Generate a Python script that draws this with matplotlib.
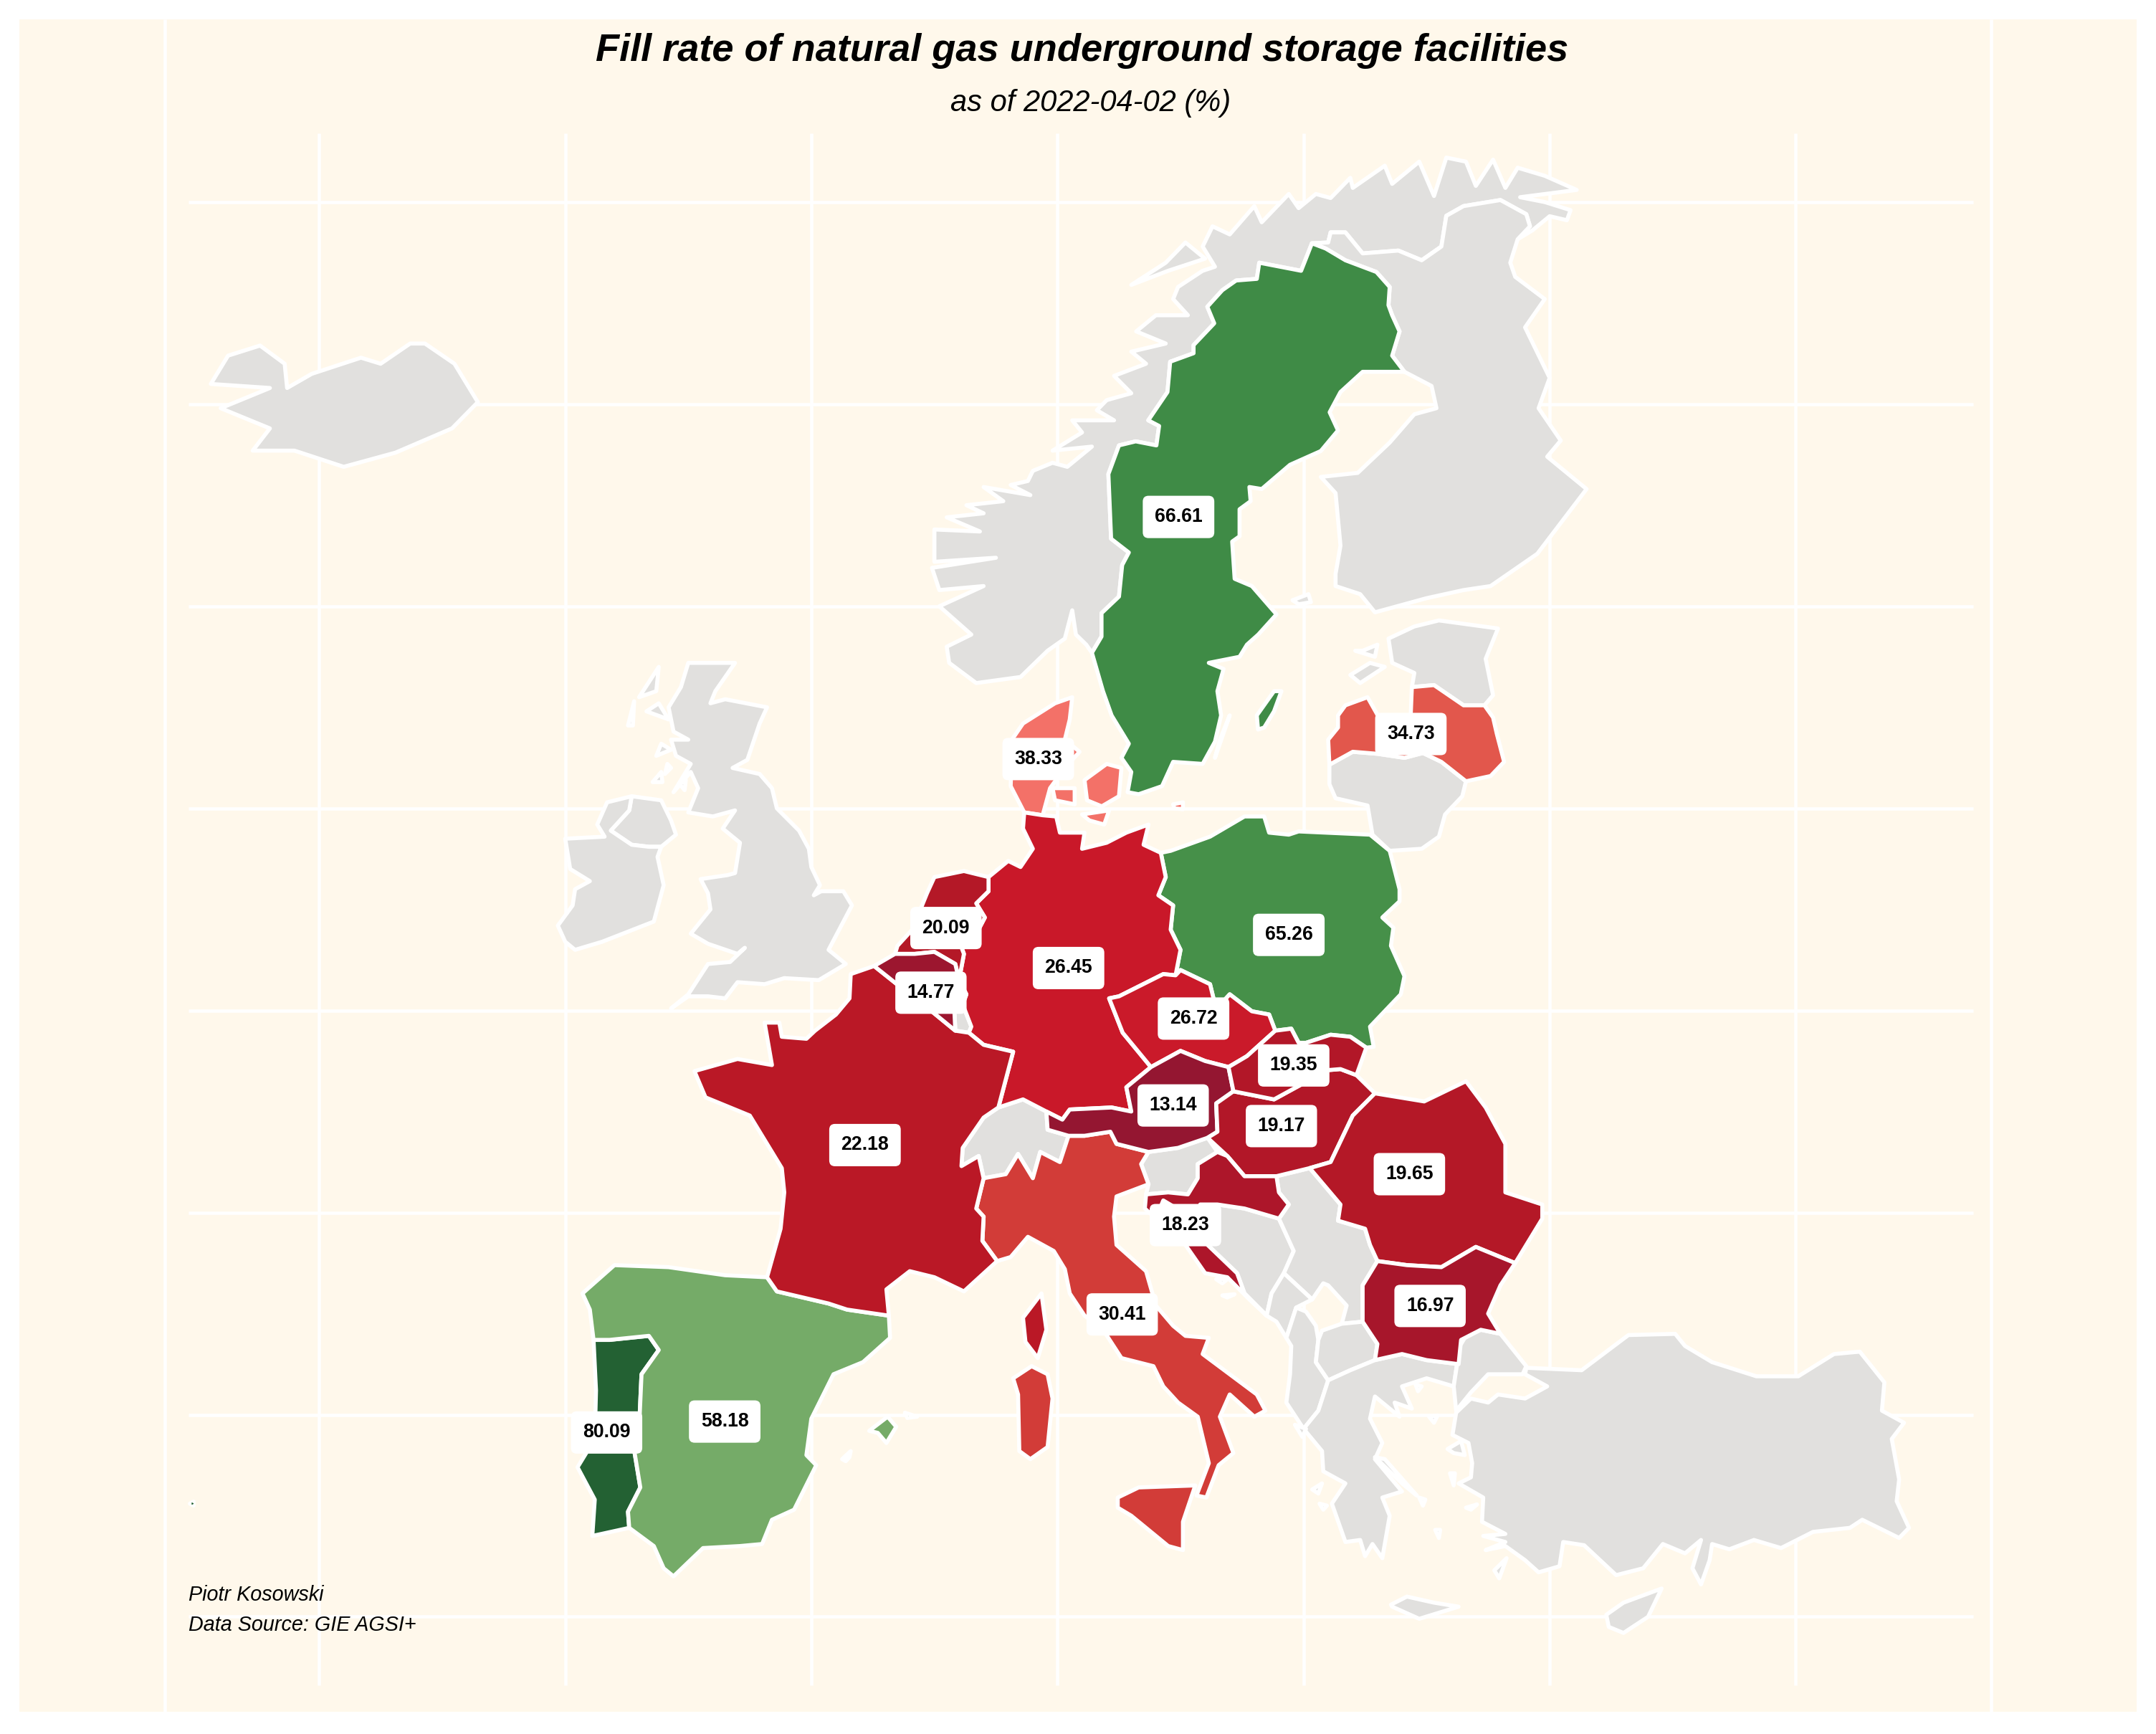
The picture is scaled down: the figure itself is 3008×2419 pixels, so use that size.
import matplotlib
matplotlib.use("Agg")
import matplotlib.pyplot as plt
from matplotlib.colors import LinearSegmentedColormap, Normalize

# ---- fill rate (%) and label anchor (lon, lat) ----
countries_with_data = ["Portugal", "Spain", "Sweden", "Poland", "Latvia", "Denmark", "Italy", "Germany",
                       "Czechia", "France", "Netherlands", "Belgium", "Austria", "Hungary", "Slovakia",
                       "Romania", "Croatia", "Bulgaria"]
fill_rate = [80.09, 58.18, 66.61, 65.26, 34.73, 38.33, 30.41, 26.45, 26.72, 22.18, 20.09, 14.77, 13.14,
             19.17, 19.35, 19.65, 18.23, 16.97]
label_lon = [-8.32, -3.52, 14.92, 19.40, 24.36, 9.22, 12.63, 10.45, 15.53, 2.18, 5.47, 4.86, 14.70,
             19.10, 19.60, 24.30, 15.20, 25.14]
label_lat = [39.56, 39.83, 62.21, 51.87, 56.84, 56.22, 42.48, 51.05, 49.80, 46.67, 52.04, 50.44, 47.65,
             47.14, 48.64, 45.95, 44.69, 42.69]
scale_values = [13.1, 14.8, 17.0, 19.2, 20.1, 22.2, 26.5, 30.4, 34.7, 38.3, 58.2, 65.3, 66.6, 80.1]
scale_colors = ["#941631", "#9D162F", "#A8162B", "#B21728", "#B51827", "#BA1826", "#C91829", "#D23C38", "#E2574C",
                "#F37168", "#76AB68", "#479049", "#3F8B46", "#236133"]

grid_lon = [-20, -10, 0, 10, 20, 30, 40]
grid_lat = [35, 40, 45, 50, 55, 60, 65, 70]

# ---- outlines, lon/lat ----
border_se_no = [(11.17,59.05),(11.4,58.85),(11.79,59.25),(11.79,59.83),(12.5,60.24),(12.63,61.02),(12.9,61.33),(12.18,61.67),(12.07,63.27),(12.5,63.98),(13.18,64.08),(14.02,63.98),
                (14.13,64.46),(13.69,64.6),(14.47,65.3),(14.58,66.05),(15.53,66.26),(15.53,66.46),(16.37,67.0),(16.09,67.41),(16.7,67.82),(17.26,68.06),(18.1,68.1),(18.2,68.5),(19.9,68.3),(20.34,68.98)]
border_se_fi = [(20.34,68.98),(20.9,68.85),(21.7,68.56),(22.96,68.27),(23.5,67.9),(23.45,67.45),(23.6,67.2),(23.9,66.8),(23.6,66.2),(24.1,65.8)]
border_no_fi = [(20.34,68.98),(21.0,69.0),(21.1,69.25),(21.7,69.25),(22.4,68.73),(23.85,68.8),(24.8,68.56),(25.6,68.9),(25.8,69.66),(26.5,69.9),(28.0,70.05),(29.05,69.7),(29.2,69.4),(28.7,69.08)]
Sweden = [border_se_fi + [(22.4,65.8),(21.5,65.3),(21.06,64.8),(21.4,64.35),(20.7,63.84),(19.45,63.5),(18.3,62.9),(17.8,62.95),(17.85,62.6),(17.4,62.4),(17.4,61.73),(17.1,61.6),(17.2,60.68),(17.9,60.5),(18.9,59.8),(18.16,59.3),(17.7,59.05),(17.4,58.75),(16.15,58.6),(16.75,58.45),(16.5,57.9),(16.65,57.3),(16.4,56.65),(15.9,56.1),(14.7,56.15),(14.25,55.55),(13.3,55.35),(12.85,55.4),(13.0,55.9),(12.6,56.25),(12.9,56.6),(12.2,57.3),(11.85,57.9)] + border_se_no[:-1][::1][1:2] + border_se_no[2:-1][::1] + [(20.34,68.98)],
          [(18.1,57.3),(18.8,57.9),(19.1,57.9),(18.8,57.4),(18.4,57.0),(18.15,56.95)],
          [(16.4,56.25),(17.0,57.3),(16.6,56.7)]]
Norway = [border_se_no + border_no_fi[1:] + [(29.3,69.3),(30.0,69.65),(30.7,69.55),(30.85,69.8),(29.8,70.0),(28.8,70.12),(31.1,70.3),(29.8,70.65),(28.7,70.85),(28.2,70.35),(27.7,71.05),(27.0,70.4),(26.6,71.0),(25.8,71.1),(25.3,70.15),(24.7,71.0),(23.6,70.45),(23.3,70.9),(22.0,70.35),(21.9,70.6),(21.1,70.1),(20.5,70.2),(19.8,69.85),(19.4,70.2),(18.3,69.5),(18.0,69.9),(17.0,69.2),(16.3,69.4),(15.9,68.9),(16.4,68.4),(15.9,68.3),(14.9,67.9),(14.7,67.6),(15.3,67.2),(14.0,67.2),(13.2,66.8),(14.4,66.5),(13.0,66.3),(13.6,66.0),(12.3,65.7),(13.0,65.27),(12.0,65.1),(11.6,64.85),(12.3,64.6),(10.6,64.6),(11.0,64.3),(9.8,63.85),(11.4,63.95),(10.4,63.45),(9.8,63.55),(9.0,63.35),(8.8,63.1),(8.1,63.0),(8.9,62.75),(7.0,62.95),(7.8,62.6),(6.3,62.5),(7.0,62.3),(5.5,62.2),(6.85,61.85),(5.0,61.9),(5.0,61.1),(7.5,61.2),(4.9,60.95),(5.2,60.4),(7.0,60.5),(5.2,60.0),(6.5,59.3),(5.5,59.0),(5.6,58.6),(6.7,58.1),(8.5,58.25),(9.6,58.9),(10.3,59.2),(10.6,59.9),(10.75,59.3)],
          [(13.0,67.95),(14.5,68.3),(16.0,68.6),(15.2,69.0),(14.4,68.5)]]
Finland = [border_no_fi[::1] + [(28.4,68.5),(28.6,68.15),(29.8,67.6),(29.0,66.9),(30.0,65.65),(29.55,64.9),(30.45,64.1),(29.9,63.7),(31.5,62.9),(29.5,61.3),(27.6,60.5),(26.5,60.4),(25.0,60.2),(23.5,59.95),(22.9,59.85),(22.3,60.3),(21.3,60.5),(21.3,60.8),(21.5,61.5),(21.3,62.8),(20.7,63.2),(22.2,63.3),(23.5,64.05),(24.5,64.75),(25.4,64.9),(25.2,65.45),(24.1,65.8),(23.6,66.2),(23.9,66.8),(23.6,67.2),(23.45,67.45),(23.5,67.9),(22.96,68.27),(21.7,68.56),(20.9,68.85)]]
Estonia = [[(23.45,59.2),(24.5,59.5),(25.5,59.65),(27.9,59.45),(27.4,58.7),(27.7,57.8),(27.35,57.55),(26.5,57.55),(25.3,58.05),(24.4,58.0),(24.5,58.35),(23.6,58.6)],
           [(21.9,58.3),(22.7,58.6),(23.3,58.5),(22.3,58.1)],[(22.4,58.9),(23.0,59.05),(22.9,58.75),(22.1,58.9)]]
Latvia = [[(21.05,56.08),(21.0,56.7),(21.4,57.0),(21.4,57.3),(21.7,57.55),(22.6,57.75),(23.2,57.1),(23.9,57.0),(24.35,57.25),(24.4,58.0),(25.3,58.05),(26.5,57.55),(27.35,57.55),
           (27.7,57.25),(27.85,56.85),(28.15,56.15),(27.6,55.8),(26.6,55.67),(25.6,56.15),(24.85,56.37),(24.1,56.25),(23.0,56.35),(22.0,56.4)]]
Lithuania = [[(21.05,56.08),(22.0,56.4),(23.0,56.35),(24.1,56.25),(24.85,56.37),(25.6,56.15),(26.6,55.67),(26.45,55.3),(25.75,54.85),(25.5,54.3),(24.8,54.0),(23.5,53.95),(22.8,54.35),
              (22.6,55.07),(21.3,55.25),(21.05,55.6)]]
Poland = [[(14.2,53.9),(14.6,53.95),(16.2,54.3),(17.6,54.8),(18.4,54.8),(18.6,54.4),(19.4,54.35),(19.8,54.43),(22.7,54.35),(23.5,53.95),(23.9,53.0),(23.9,52.7),(23.2,52.3),(23.65,52.05),
           (23.55,51.6),(24.1,50.85),(23.95,50.4),(22.7,49.6),(22.85,49.1),(22.55,49.08),(21.9,49.35),(21.1,49.4),(20.1,49.2),(19.8,49.2),(19.5,49.55),(18.85,49.5),(18.6,49.9),(17.9,49.98),
           (17.0,50.4),(16.7,50.2),(16.4,50.15),(16.2,50.65),(15.0,51.0),(14.8,50.87),(15.0,51.5),(14.6,52.0),(14.7,52.6),(14.1,52.85),(14.4,53.3)]]
Germany = [[(14.2,53.9),(13.5,54.1),(13.7,54.6),(12.8,54.4),(12.0,54.15),(11.0,54.0),(11.1,54.4),(10.1,54.4),(9.95,54.8),(9.4,54.83),(8.65,54.9),(8.6,54.5),(9.0,54.0),(8.5,53.55),(8.0,53.7),
            (7.2,53.3),(7.2,52.95),(6.7,52.65),(7.05,52.3),(6.75,51.95),(5.95,51.8),(6.2,51.4),(6.0,50.75),(6.3,50.4),(6.15,50.15),(6.5,49.6),(6.4,49.45),(7.0,49.15),(8.2,48.98),(7.6,47.6),(8.6,47.8),
            (9.55,47.5),(10.2,47.3),(10.5,47.55),(12.2,47.6),(13.0,47.5),(12.8,48.1),(13.8,48.6),(12.65,49.45),(12.1,50.3),(12.5,50.35),(14.3,50.9),(14.8,50.87),(15.0,51.5),(14.6,52.0),(14.7,52.6),(14.1,52.85),(14.4,53.3)]]
Czechia = [[(12.1,50.3),(12.5,50.35),(14.3,50.9),(14.8,50.87),(15.0,51.0),(16.2,50.65),(16.4,50.15),(16.7,50.2),(17.0,50.4),(17.9,49.98),(18.6,49.9),(18.85,49.5),(17.7,48.87),(16.95,48.6),(16.0,48.75),(15.0,49.0),(13.8,48.6),(12.65,49.45)]]
Slovakia = [[(16.95,48.6),(17.15,48.0),(18.8,47.8),(20.0,48.2),(20.5,48.5),(21.5,48.55),(22.15,48.4),(22.55,49.08),(21.9,49.35),(21.1,49.4),(20.1,49.2),(19.8,49.2),(19.5,49.55),(18.85,49.5),(17.7,48.87)]]
Austria = [[(9.55,47.5),(10.2,47.3),(10.5,47.55),(12.2,47.6),(13.0,47.5),(12.8,48.1),(13.8,48.6),(15.0,49.0),(16.0,48.75),(16.95,48.6),(17.15,48.0),(16.45,47.7),(16.5,47.0),(16.1,46.85),(14.9,46.6),(13.7,46.5),(12.4,46.7),(12.15,47.0),(11.1,46.9),(10.45,46.9),(9.6,47.05)]]
Hungary = [[(16.1,46.85),(16.5,47.0),(16.45,47.7),(17.15,48.0),(18.8,47.8),(20.0,48.2),(20.5,48.5),(21.5,48.55),(22.15,48.4),(22.9,47.95),(22.0,47.4),(21.1,46.25),(20.25,46.1),(18.9,45.9),(17.6,45.9),(16.9,46.4)]]
Slovenia = [[(13.7,46.5),(14.9,46.6),(16.1,46.85),(16.5,46.5),(15.7,46.2),(15.7,45.85),(15.3,45.45),(14.5,45.5),(13.6,45.45),(13.7,45.7),(13.4,46.2)]]
Croatia = [[(16.5,46.5),(16.9,46.4),(17.6,45.9),(18.9,45.9),(19.0,45.5),(19.4,45.2),(19.0,44.85),(17.6,45.1),(16.5,45.2),(15.8,45.2),(15.8,44.7),(16.1,44.2),(17.3,43.5),(17.6,43.0),(18.5,42.45),(17.8,42.85),(16.9,43.4),(16.0,43.5),(15.2,44.2),(14.9,44.6),(14.85,45.1),(14.3,45.3),(14.0,44.85),(13.55,45.1),(13.6,45.45),(14.5,45.5),(15.3,45.45),(15.7,45.85),(15.7,46.2)]]
Bosnia = [[(15.8,45.2),(16.5,45.2),(17.6,45.1),(19.0,44.85),(19.6,44.05),(19.2,43.5),(18.7,43.0),(18.5,42.45),(17.6,43.0),(17.3,43.5),(16.1,44.2),(15.8,44.7)]]
Serbia = [[(19.0,45.5),(18.9,45.9),(20.25,46.1),(21.5,45.2),(21.4,44.8),(22.5,44.6),(22.7,44.2),(23.0,43.8),(22.4,43.2),(22.4,42.3),(21.55,42.25),(21.75,42.7),(21.0,43.2),(20.8,43.25),(20.35,42.85),(19.2,43.5),(19.6,44.05),(19.0,44.85),(19.4,45.2)]]
Montenegro = [[(18.5,42.45),(18.7,43.0),(19.2,43.5),(20.35,42.85),(19.7,42.65),(19.3,41.9),(18.9,42.3)]]
Albania = [[(19.3,41.9),(19.7,42.65),(20.1,42.55),(20.5,42.2),(20.6,41.85),(20.5,41.3),(21.0,40.85),(20.6,40.1),(20.0,39.65),(19.3,40.3),(19.45,41.0),(19.5,41.7)]]
Macedonia = [[(20.6,41.85),(20.75,42.08),(21.55,42.25),(22.4,42.3),(23.0,41.75),(22.9,41.35),(21.9,41.1),(21.0,40.85),(20.5,41.3)]]
Bulgaria = [[(22.4,42.3),(22.4,43.2),(23.0,43.8),(24.2,43.7),(25.6,43.65),(27.0,44.15),(28.6,43.75),(28.0,43.2),(27.5,42.5),(28.0,42.0),(27.2,42.1),(26.4,41.85),(26.3,41.25),(25.0,41.35),(24.0,41.5),(22.9,41.35),(23.0,41.75)]]
Romania = [[(20.25,46.1),(21.1,46.25),(22.0,47.4),(22.9,47.95),(24.9,47.75),(26.6,48.25),(27.4,47.6),(28.2,46.7),(28.2,45.5),(29.7,45.2),(29.7,44.85),(28.6,43.75),(27.0,44.15),(25.6,43.65),(24.2,43.7),(23.0,43.8),(22.7,44.2),(22.5,44.6),(21.4,44.8),(21.5,45.2)]]
Greece = [[(20.0,39.65),(20.6,40.1),(21.0,40.85),(21.9,41.1),(22.9,41.35),(24.0,41.5),(25.0,41.35),(26.3,41.25),(26.35,41.7),(26.1,40.7),(25.0,40.9),(24.0,40.7),(24.4,40.15),(23.7,40.3),(23.9,39.95),(23.3,40.25),(22.9,40.45),(22.7,39.9),(23.2,39.3),(22.9,38.9),(24.0,38.1),(23.2,37.95),(23.5,37.5),(23.2,36.45),(22.8,36.8),(22.5,36.5),(22.3,36.9),(21.7,36.85),(21.15,37.8),(21.7,38.3),(20.8,38.6),(20.75,39.1)],
          [(23.55,35.3),(24.2,35.5),(25.3,35.35),(26.3,35.25),(24.7,34.95),(23.6,35.25)],
          [(22.9,38.95),(24.0,38.3),(24.6,38.0),(23.3,38.9)],
          [(25.85,39.15),(26.4,39.35),(26.55,39.0),(26.1,39.05)],[(27.75,36.15),(28.25,36.45),(27.95,35.95)],
          [(19.65,39.75),(20.1,39.65),(19.95,39.45)],[(20.35,38.15),(20.75,38.3),(20.6,38.05)],[(20.65,37.8),(20.95,37.75),(20.8,37.65)],
          [(25.95,38.55),(26.15,38.55),(26.1,38.25)],[(26.6,37.7),(27.05,37.78),(26.8,37.65)],[(24.55,40.75),(24.8,40.7),(24.65,40.58)],
          [(25.1,39.95),(25.45,39.98),(25.3,39.8)],[(25.35,37.15),(25.55,37.15),(25.5,36.95)],[(24.7,37.95),(24.95,37.9),(24.85,37.75)]]
Turkey = [[(29.05,41.16),(31.3,41.1),(33.2,41.97),(35.1,42.0),(35.5,41.7),(36.6,41.3),(38.4,40.95),(40.1,40.95),(41.55,41.5),(42.6,41.56),(43.6,40.8),(43.5,40.1),(44.4,39.8),(43.9,39.4),(44.2,38.4),(44.1,37.86),(44.6,37.2),(44.2,36.95),(42.7,37.4),(42.2,37.2),(40.7,37.1),(39.4,36.7),(38.3,36.9),(37.3,36.67),(36.6,36.8),(36.5,36.4),(36.15,35.8),(35.8,36.2),(36.15,36.9),(35.5,36.57),(34.6,36.8),(33.8,36.2),(32.7,36.03),(31.4,36.77),(30.55,36.85),(30.4,36.25),(29.55,36.1),(29.0,36.4),(28.2,36.75),(27.4,36.65),(28.2,36.85),(27.3,37.0),(28.2,37.05),(27.25,37.35),(27.3,37.95),(26.3,38.3),(26.8,38.45),(26.85,38.8),(26.7,39.3),(26.05,39.5),(26.2,40.05),(26.8,40.4),(27.5,40.3),(27.9,40.5),(29.0,40.4),(29.9,40.7),(29.0,41.0)],
          [(26.35,41.7),(26.6,41.95),(27.2,42.1),(28.0,42.0),(29.05,41.2),(28.9,41.0),(27.5,41.0),(26.8,40.55),(26.2,40.1),(26.1,40.7)]]
Cyprus = [[(32.3,35.05),(33.0,35.35),(34.55,35.7),(34.0,35.0),(33.0,34.6),(32.4,34.75)]]
Italy = [[(7.55,43.8),(6.95,44.3),(7.0,44.9),(6.7,45.1),(7.0,45.85),(7.9,45.95),(8.4,46.45),(9.0,45.85),(9.3,46.5),(10.1,46.25),(10.45,46.9),(11.1,46.9),(12.15,47.0),(12.4,46.7),(13.7,46.5),(13.4,46.2),(13.7,45.7),(12.4,45.4),(12.3,44.9),(12.4,44.2),(13.6,43.55),(14.0,42.7),(14.7,42.2),(15.2,41.95),(16.15,41.9),(15.9,41.5),(17.0,41.0),(18.1,40.5),(18.45,40.1),(18.0,39.95),(17.0,40.5),(16.6,39.95),(17.15,39.05),(16.55,38.75),(16.05,37.95),(15.65,38.0),(16.15,38.8),(15.7,39.95),(14.9,40.3),(14.3,40.7),(13.9,41.2),(12.6,41.4),(11.8,42.15),(11.1,42.45),(10.5,43.0),(10.3,43.6),(9.85,44.05),(8.8,44.4),(8.1,43.9)],
         [(12.45,37.95),(13.3,38.2),(15.6,38.25),(15.1,37.35),(15.1,36.65),(14.5,36.75),(13.0,37.5),(12.45,37.7)],
         [(8.2,40.9),(8.95,41.2),(9.6,41.0),(9.8,40.4),(9.6,39.2),(8.9,38.9),(8.45,39.1),(8.4,40.5)]]
France = [[(2.55,51.1),(1.6,50.9),(1.55,50.3),(1.0,49.9),(0.15,49.5),(-0.2,49.3),(-1.2,49.35),(-1.3,49.7),(-1.9,49.7),(-1.6,48.65),(-3.0,48.8),(-4.75,48.5),(-4.3,47.85),(-2.5,47.4),(-2.1,47.0),(-1.2,46.1),(-1.1,45.5),(-1.25,44.6),(-1.8,43.4),(-1.4,43.05),(0.7,42.75),(1.45,42.6),(3.15,42.45),(3.05,43.1),(4.0,43.55),(5.0,43.4),(6.2,43.05),(7.55,43.8),(6.95,44.3),(7.0,44.9),(6.7,45.1),(7.0,45.85),(6.8,46.4),(6.1,46.15),(6.15,46.6),(7.0,47.35),(7.6,47.6),(8.2,48.98),(7.0,49.15),(6.4,49.45),(5.85,49.5),(4.85,50.0),(4.2,50.3)],
          [(8.6,42.4),(9.35,43.0),(9.55,42.1),(9.2,41.4),(8.7,41.8)]]
Spain = [[(-1.8,43.4),(-1.4,43.05),(0.7,42.75),(1.45,42.6),(3.15,42.45),(3.2,41.9),(2.1,41.3),(0.9,41.0),(0.0,39.9),(-0.2,39.0),(0.2,38.75),(-0.7,37.65),(-1.6,37.4),(-2.0,36.8),(-2.9,36.75),(-4.4,36.7),(-5.6,36.0),(-6.0,36.2),(-6.4,36.75),(-7.4,37.2),(-7.45,37.6),(-6.95,38.2),(-7.3,39.5),(-7.0,39.65),(-6.9,41.0),(-6.2,41.6),(-6.6,41.95),(-8.2,41.85),(-8.85,41.85),(-9.0,42.6),(-9.3,43.0),(-8.0,43.7),(-5.8,43.65),(-3.5,43.45)],
         [(2.35,39.6),(3.1,39.95),(3.45,39.7),(3.05,39.3),(2.7,39.55)],[(3.8,40.05),(4.3,39.95),(3.9,39.92)],[(1.25,38.9),(1.6,39.1),(1.55,38.95),(1.4,38.85)]]
Portugal = [[(-8.85,41.85),(-8.2,41.85),(-6.6,41.95),(-6.2,41.6),(-6.9,41.0),(-7.0,39.65),(-7.3,39.5),(-6.95,38.2),(-7.45,37.6),(-7.4,37.2),(-8.9,37.0),(-8.8,37.9),(-9.5,38.7),(-8.8,39.4),(-8.75,40.6)],
            [(-25.25,37.8),(-25.1,37.85),(-25.1,37.75)]]
Denmark = [[(8.65,54.9),(8.1,55.55),(8.15,56.7),(8.6,57.1),(9.9,57.6),(10.6,57.75),(10.5,57.2),(10.3,56.7),(10.9,56.4),(10.3,56.0),(9.7,55.5),(9.4,54.83)],
           [(9.8,55.5),(10.7,55.5),(10.7,55.1),(9.9,55.2)],[(11.1,55.7),(12.0,56.1),(12.6,56.0),(12.5,55.3),(11.8,55.05),(11.2,55.2)],
           [(11.0,54.85),(12.1,54.95),(11.9,54.6),(11.3,54.7)],[(14.7,55.1),(15.1,55.15),(15.1,54.98),(14.75,55.0)]]
Netherlands = [[(3.4,51.4),(4.2,51.4),(5.0,51.45),(5.85,51.15),(6.0,50.75),(6.2,51.4),(5.95,51.8),(6.75,51.95),(7.05,52.3),(6.7,52.65),(7.2,52.95),(7.2,53.3),(6.2,53.45),(5.0,53.3),(4.7,52.9),(4.1,52.0),(3.5,51.6)]]
Belgium = [[(2.55,51.1),(3.4,51.4),(4.2,51.4),(5.0,51.45),(5.85,51.15),(6.0,50.75),(6.3,50.4),(6.15,50.15),(5.8,50.15),(5.85,49.5),(4.85,50.0),(4.2,50.3)]]
Luxembourg = [[(5.85,49.5),(5.8,50.15),(6.15,50.15),(6.5,49.6),(6.4,49.45)]]
Switzerland = [[(6.1,46.15),(6.8,46.4),(7.0,45.85),(7.9,45.95),(8.4,46.45),(9.0,45.85),(9.3,46.5),(10.1,46.25),(10.45,46.9),(9.6,47.05),(9.55,47.5),(8.6,47.8),(7.6,47.6),(7.0,47.35),(6.15,46.6)]]
Britain = [[(-5.7,50.05),(-5.0,50.35),(-4.2,50.35),(-3.5,50.3),(-3.0,50.7),(-1.9,50.65),(-1.1,50.8),(0.3,50.75),(1.4,51.15),(0.7,51.5),(1.65,52.6),(1.3,52.95),(0.4,52.95),(0.1,52.85),(0.35,53.1),(0.0,53.55),(-0.1,54.0),(-0.5,54.45),(-1.4,55.0),(-1.6,55.5),(-2.1,55.85),(-3.2,56.0),(-2.6,56.2),(-2.1,57.1),(-1.8,57.5),(-3.5,57.7),(-4.1,57.6),(-3.9,57.9),(-3.1,58.6),(-5.0,58.6),(-5.3,58.0),(-5.8,57.5),(-5.6,56.9),(-5.0,56.7),(-5.7,56.7),(-5.5,56.3),(-4.9,56.1),(-5.6,55.4),(-4.9,55.9),(-4.6,55.5),(-5.0,54.9),(-4.0,54.8),(-3.1,54.95),(-3.6,54.5),(-2.9,54.15),(-3.1,53.4),(-3.4,53.35),(-4.5,53.25),(-4.2,52.9),(-4.1,52.5),(-4.9,51.9),(-4.2,51.65),(-3.0,51.4),(-2.7,51.55),(-3.3,51.2),(-4.2,51.15),(-5.0,50.4)],
           [(-7.0,57.75),(-6.2,58.5),(-6.3,57.9)],[(-6.7,57.4),(-5.8,57.2),(-6.2,57.6)],[(-6.3,56.3),(-5.7,56.45),(-6.1,56.6)],
           [(-7.45,57.05),(-7.2,57.65),(-7.25,57.05)],[(-6.45,55.65),(-6.1,55.9),(-6.05,55.65)],[(-5.95,55.85),(-5.7,56.0),(-5.85,56.1)],[(-5.35,55.6),(-5.1,55.7),(-5.15,55.45)]]
NorthernIreland = [[(-5.5,54.35),(-5.7,54.7),(-6.1,55.2),(-7.3,55.3),(-7.4,54.95),(-8.15,54.45),(-7.3,54.1),(-6.6,54.05),(-6.1,54.05)]]
Ireland = [[(-6.1,54.05),(-6.6,54.05),(-7.3,54.1),(-8.15,54.45),(-7.4,54.95),(-7.3,55.3),(-8.3,55.15),(-8.7,54.6),(-8.4,54.3),(-10.0,54.25),(-9.8,53.5),(-9.0,53.2),(-9.6,53.0),(-9.7,52.6),(-10.3,52.1),(-10.0,51.7),(-9.6,51.5),(-8.5,51.7),(-6.4,52.2),(-6.0,53.1),(-6.25,53.8)]]
Iceland = [[(-22.7,63.85),(-21.0,63.85),(-19.0,63.45),(-16.9,63.8),(-14.6,64.4),(-13.55,65.05),(-14.5,66.0),(-15.7,66.5),(-16.3,66.5),(-17.5,66.0),(-18.3,66.15),(-20.3,65.75),(-21.3,65.4),(-21.4,66.0),(-22.4,66.45),(-23.7,66.2),(-24.4,65.5),(-22.0,65.4),(-24.0,64.9),(-22.0,64.4)]]
Aland = [[(19.55,60.15),(20.2,60.3),(20.3,60.1),(19.8,60.05)]]
Adriatic_islands = [[(14.4,45.1),(14.7,45.2),(14.6,44.95)],[(14.35,44.9),(14.5,44.75),(14.35,44.6)],[(16.45,43.35),(16.9,43.35),(16.7,43.25)],[(16.7,42.95),(17.2,42.98),(16.9,42.9)]]

shapes_with_data = dict(Portugal=Portugal, Spain=Spain, Sweden=Sweden, Poland=Poland, Latvia=Latvia, Denmark=Denmark, Italy=Italy,
                        Germany=Germany, Czechia=Czechia, France=France, Netherlands=Netherlands, Belgium=Belgium, Austria=Austria,
                        Hungary=Hungary, Slovakia=Slovakia, Romania=Romania, Croatia=Croatia, Bulgaria=Bulgaria)
shapes_no_data = [Norway, Finland, Estonia, Lithuania, Slovenia, Bosnia, Serbia, Montenegro, Albania, Macedonia, Greece, Turkey, Cyprus,
                  Luxembourg, Switzerland, Britain, NorthernIreland, Ireland, Iceland, Aland, Adriatic_islands]

CREAM, GREY = "#FFF8EB", "#E1E0DE"
plt.rcParams["font.family"] = ["Liberation Sans", "DejaVu Sans"]

W, H = 3008, 2419
fig = plt.figure(figsize=(W / 300, H / 300), dpi=300, facecolor="white")
ax = fig.add_axes([27 / W, 1 - 2388 / H, (2981 - 27) / W, (2388 - 27) / H], facecolor=CREAM)
ax.set_xlim(-32.18, 53.85)
ax.set_ylim(32.65, 74.52)
ax.axis("off")
ax.add_patch(plt.Rectangle((0, 0), 1, 1, transform=ax.transAxes, color=CREAM, zorder=0))

for lon in grid_lon:
    ax.plot([lon, lon], [33.3, 71.7], color="white", lw=1.1, zorder=1, solid_capstyle="butt")
for lat in grid_lat:
    ax.plot([-25.3, 47.2], [lat, lat], color="white", lw=1.1, zorder=1, solid_capstyle="butt")
for lon in (-26.26, 47.93):
    ax.plot([lon, lon], [32.65, 74.52], color="white", lw=1.1, zorder=1, solid_capstyle="butt")

cmap = LinearSegmentedColormap.from_list(
    "fill", [((v - scale_values[0]) / (scale_values[-1] - scale_values[0]), c) for v, c in zip(scale_values, scale_colors)])
norm = Normalize(scale_values[0], scale_values[-1])

def draw(parts, color, z):
    for part in parts:
        xs, ys = zip(*part)
        ax.fill(xs, ys, facecolor=color, edgecolor="white", lw=1.35, joinstyle="round", zorder=z)

for parts in shapes_no_data:
    draw(parts, GREY, 2)
for name, val in zip(countries_with_data, fill_rate):
    draw(shapes_with_data[name], cmap(norm(val)), 3)

for x, y, val in zip(label_lon, label_lat, fill_rate):
    ax.text(x, y, f"{val:.2f}", ha="center", va="center", fontsize=6.4, fontweight="bold", color="black", zorder=5,
            bbox=dict(boxstyle="round,pad=0.62,rounding_size=0.3", facecolor="white", edgecolor="none"))

fig.text(787 / 1568, 1 - 37 / 1261, "Fill rate of natural gas underground storage facilities", ha="center", va="center",
         fontsize=13, fontweight="bold", fontstyle="italic")
fig.text(793 / 1568, 1 - 75 / 1261, "as of 2022-04-02 (%)", ha="center", va="center", fontsize=10, fontstyle="italic")
fig.text(137 / 1568, 1 - 1160 / 1261, "Piotr Kosowski", ha="left", va="center", fontsize=6.9, fontstyle="italic")
fig.text(137 / 1568, 1 - 1182 / 1261, "Data Source: GIE AGSI+", ha="left", va="center", fontsize=6.9, fontstyle="italic")

fig.savefig("out.png", dpi=300, facecolor="white")
